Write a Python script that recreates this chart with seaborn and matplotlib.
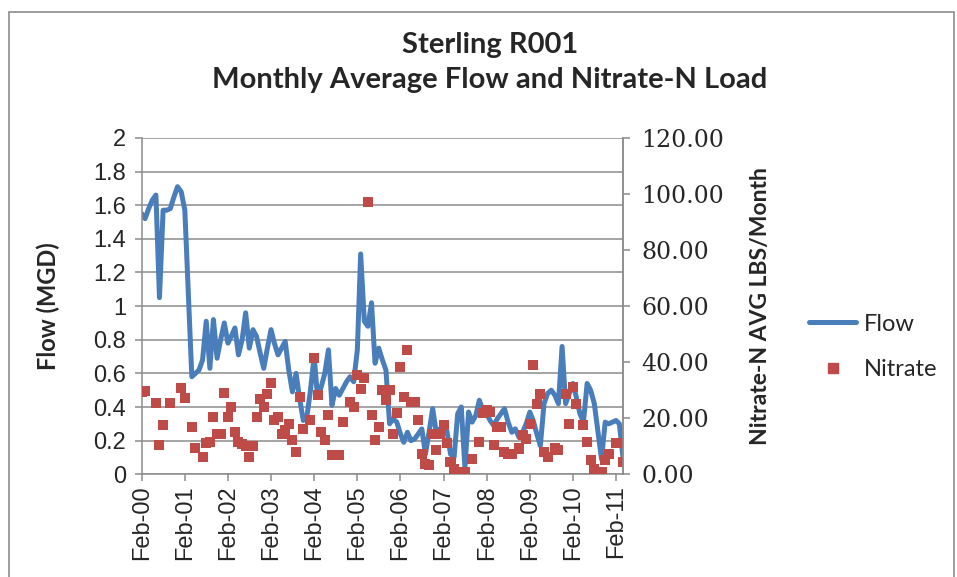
import numpy as np
import pandas as pd
import matplotlib
matplotlib.use("Agg")
import matplotlib.pyplot as plt
import matplotlib.dates as mdates
from matplotlib.lines import Line2D
from matplotlib.patches import Rectangle
import seaborn as sns

# Monthly values, Feb-2000 .. Apr-2011
start_month = "2000-02-01"

flow_mgd = [
    1.55, 1.52, 1.58, 1.63, 1.66, 1.05, 1.57, 1.57, 1.58, 1.65, 1.71, 1.68,
    1.57, 1.10, 0.58, 0.60, 0.62, 0.68, 0.91, 0.63, 0.92, 0.69, 0.80, 0.90,
    0.78, 0.82, 0.87, 0.71, 0.80, 0.96, 0.75, 0.86, 0.82, 0.72, 0.63, 0.75,
    0.86, 0.78, 0.71, 0.75, 0.79, 0.62, 0.49, 0.60, 0.45, 0.32, 0.34, 0.50,
    0.70, 0.46, 0.52, 0.60, 0.74, 0.41, 0.51, 0.47, 0.51, 0.55, 0.58, 0.55,
    0.74, 1.31, 0.91, 0.88, 1.02, 0.66, 0.75, 0.68, 0.62, 0.30, 0.33, 0.31,
    0.24, 0.19, 0.25, 0.20, 0.21, 0.24, 0.27, 0.12, 0.25, 0.39, 0.25, 0.27,
    0.28, 0.26, 0.12, 0.10, 0.36, 0.40, 0.04, 0.37, 0.31, 0.35, 0.44, 0.38,
    0.36, 0.32, 0.29, 0.33, 0.36, 0.39, 0.31, 0.25, 0.27, 0.22, 0.25, 0.30,
    0.37, 0.32, 0.24, 0.17, 0.42, 0.48, 0.50, 0.47, 0.42, 0.76, 0.42, 0.48,
    0.54, 0.46, 0.36, 0.31, 0.54, 0.50, 0.42, 0.25, 0.09, 0.31, 0.30, 0.31,
    0.32, 0.30, 0.10,
]

nan = np.nan
nitrate_lbs = [
    29.4, 29.8, nan, nan, 25.5, 10.4, 17.5, nan, 25.5, nan, nan, 30.8,
    27.3, nan, 16.9, 9.5, nan, 6.0, 11.0, 11.4, 20.5, 14.3, 14.3, 29.0,
    20.5, 24.0, 15.1, 11.4, 10.7, 10.2, 6.0, 10.2, 20.5, 26.8, 24.0, 28.5,
    32.4, 19.5, 20.5, 14.5, 15.9, 18.1, 12.1, 8.0, 27.6, 16.3, nan, 19.3,
    41.5, 28.2, 15.1, 12.1, 21.1, 6.8, 6.8, 6.8, 18.7, nan, 25.8, 24.0,
    35.4, 30.6, 34.2, 97.3, 21.1, 12.1, 16.9, 30.0, 26.4, 30.0, 14.5, 21.7,
    38.3, 27.6, 44.3, 25.8, 25.8, 19.3, 7.4, 3.8, 3.2, 14.5, 8.6, 14.5,
    17.5, 11.0, 4.4, 2.0, 0.8, 0.2, 0.8, nan, 5.6, nan, 11.5, 21.7,
    22.9, 22.3, 10.4, 16.9, 17.0, 8.0, 7.4, 7.4, nan, 9.2, 13.9, 12.7,
    18.1, 38.9, 25.2, 28.8, 8.0, 6.2, nan, 9.2, 8.6, nan, 28.8, 18.1,
    31.2, 25.2, nan, 17.5, 11.5, 5.0, 2.0, nan, 0.8, 5.0, 7.4, nan,
    11.0, 11.0, 4.4,
]

flow_ticks = [0, 0.2, 0.4, 0.6, 0.8, 1, 1.2, 1.4, 1.6, 1.8, 2]
flow_tick_labels = ["0", "0.2", "0.4", "0.6", "0.8", "1", "1.2", "1.4", "1.6", "1.8", "2"]
nitrate_ticks = [0, 20, 40, 60, 80, 100, 120]

dates = pd.date_range(start_month, periods=len(flow_mgd), freq="MS")
df = pd.DataFrame({"date": dates, "Flow": flow_mgd, "Nitrate": nitrate_lbs})

blue = "#4A7EBB"
red = "#BE4B48"
grid_gray = "#8C8C8C"

sns.set_style("white")
plt.rcParams["font.family"] = ["Liberation Sans", "DejaVu Sans"]

fig = plt.figure(figsize=(9.57, 5.77), dpi=100)
fig.subplots_adjust(left=0.148, right=0.651, bottom=0.178, top=0.761)
ax = fig.add_subplot(111)
ax2 = ax.twinx()

sns.lineplot(data=df, x="date", y="Flow", ax=ax, color=blue, linewidth=3.6,
             label="Flow", legend=False)
sns.scatterplot(data=df, x="date", y="Nitrate", ax=ax2, color=red, marker="s",
                s=52, edgecolor="none", label="Nitrate", legend=False)

ax.set_ylim(0, 2)
ax2.set_ylim(0, 120)
ax.set_xlim(dates[0], dates[-1])
ax.set_yticks(flow_ticks)
ax.set_yticklabels(flow_tick_labels)
ax2.set_yticks(nitrate_ticks)
ax2.set_yticklabels([f"{v:.2f}" for v in nitrate_ticks], family="DejaVu Serif")

xt = pd.date_range(start_month, "2011-02-01", freq="12MS")
ax.set_xticks(xt)
ax.xaxis.set_major_formatter(mdates.DateFormatter("%b-%y"))
for lab in ax.get_xticklabels():
    lab.set_rotation(90)

ax.yaxis.grid(True, color=grid_gray, linewidth=1.1)
ax.set_axisbelow(True)

for a in (ax, ax2):
    a.spines["top"].set_visible(False)
    for s in ("left", "right", "bottom"):
        a.spines[s].set_color(grid_gray)
        a.spines[s].set_linewidth(1.1)
ax2.spines["left"].set_visible(False)
ax2.spines["bottom"].set_visible(False)

ax.tick_params(axis="x", direction="out", length=5, width=1.1, color=grid_gray,
               labelsize=17, pad=3, bottom=True)
ax.tick_params(axis="y", direction="out", length=5, width=1.1, color=grid_gray,
               labelsize=17, pad=6, left=True)
ax2.tick_params(axis="y", direction="out", length=5, width=1.1, color=grid_gray,
                labelsize=17, pad=8, right=True)

ax.set_xlabel("")
ax.set_ylabel("Flow (MGD)", family="Lato", fontweight="bold", fontsize=17)
ax.yaxis.set_label_coords(-0.169, 0.5)
ax2.set_ylabel("Nitrate-N AVG LBS/Month", family="Lato", fontweight="bold", fontsize=16.5)
ax2.yaxis.set_label_coords(1.264, 0.5)

fig.text(0.512, 1 - 45 / 577, "Sterling R001", ha="center", va="center",
         family="Lato", fontweight="bold", fontsize=21)
fig.text(0.512, 1 - 80 / 577, "Monthly Average Flow and Nitrate-N Load",
         ha="center", va="center", family="Lato", fontweight="bold", fontsize=21)

handles = [
    Line2D([], [], color=blue, linewidth=3.6),
    Line2D([], [], color=red, marker="s", markersize=7.5, linestyle="none"),
]
fig.legend(handles, ["Flow", "Nitrate"], loc="center left",
           bbox_to_anchor=(788 / 957, 1 - 347 / 577), frameon=False,
           prop={"family": "Lato", "size": 17}, handlelength=2.0,
           handletextpad=0.3, labelspacing=1.05)

fig.patches.append(Rectangle((9 / 957, -0.02), 945 / 957, 1 - 12 / 577 + 0.02,
                             transform=fig.transFigure, fill=False,
                             edgecolor="#8C8C8C", linewidth=1.2))

fig.savefig("out.png", dpi=100)
